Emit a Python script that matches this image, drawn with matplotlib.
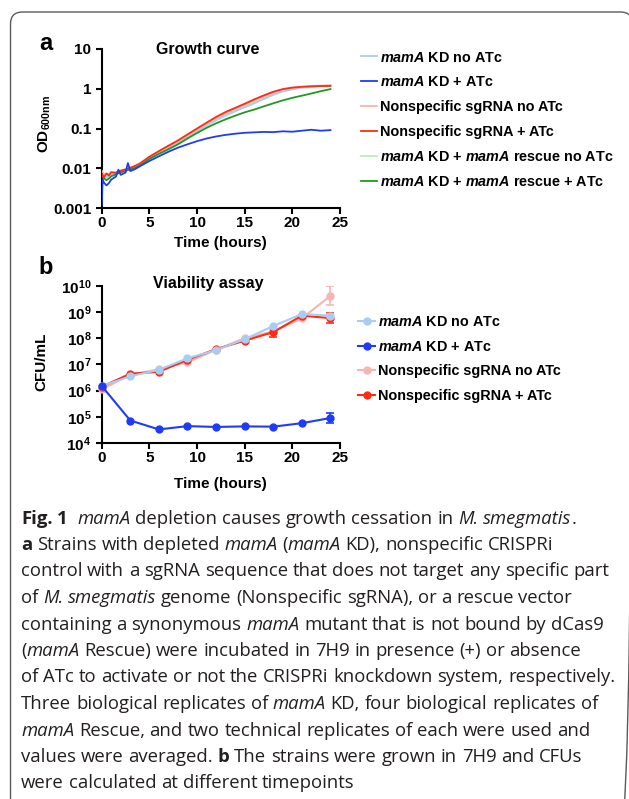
import numpy as np
import matplotlib
matplotlib.use("Agg")
import matplotlib.pyplot as plt
import matplotlib.transforms as mtransforms
from matplotlib.patches import FancyBboxPatch
from matplotlib.font_manager import FontProperties
from matplotlib.ticker import NullLocator

plt.rcParams['font.family'] = ['Liberation Sans', 'DejaVu Sans']
plt.rcParams['font.weight'] = 'bold'
plt.rcParams['mathtext.fontset'] = 'custom'
plt.rcParams['mathtext.rm'] = 'Liberation Sans:bold'
plt.rcParams['mathtext.bf'] = 'Liberation Sans:bold'
plt.rcParams['mathtext.it'] = 'Liberation Sans:italic:bold'
plt.rcParams['axes.linewidth'] = 1.5

# ---- panel a: growth curve (OD600) ----
t_growth = [0, 0.1, 0.25, 0.5, 0.75, 1, 1.5, 1.75, 2, 2.5, 2.75, 3, 3.5, 4,
            5, 6, 7, 8, 9, 10, 11, 12, 13, 14, 15, 16, 17, 18, 19, 20, 21, 22, 23, 24]
od_kd_no = [0.0070, 0.0068, 0.0062, 0.0060, 0.0064, 0.0070, 0.0074, 0.0078, 0.0082, 0.0088, 0.0092, 0.0096, 0.0105, 0.0118,
            0.018, 0.024, 0.032, 0.044, 0.061, 0.086, 0.118, 0.160, 0.21, 0.27, 0.34, 0.43, 0.55, 0.70, 0.85, 0.97, 1.06, 1.12, 1.17, 1.20]
od_kd_atc = [0.0012, 0.0052, 0.0043, 0.0037, 0.0042, 0.0052, 0.0062, 0.0092, 0.0068, 0.0078, 0.0135, 0.0085, 0.0095, 0.0112,
             0.0152, 0.020, 0.026, 0.033, 0.040, 0.048, 0.056, 0.063, 0.069, 0.074, 0.078, 0.080, 0.082, 0.081, 0.085, 0.083, 0.088, 0.093, 0.088, 0.091]
od_ns_no = [0.0088, 0.0080, 0.0072, 0.0068, 0.0072, 0.0076, 0.0080, 0.0083, 0.0086, 0.0092, 0.0096, 0.0100, 0.0110, 0.0125,
            0.0185, 0.025, 0.034, 0.046, 0.066, 0.094, 0.132, 0.18, 0.24, 0.31, 0.39, 0.50, 0.63, 0.79, 0.94, 1.05, 1.12, 1.17, 1.20, 1.22]
od_ns_atc = [0.0062, 0.0068, 0.0060, 0.0074, 0.0066, 0.0080, 0.0076, 0.0084, 0.0087, 0.0094, 0.0098, 0.0103, 0.0115, 0.0132,
             0.0195, 0.027, 0.037, 0.050, 0.071, 0.100, 0.140, 0.195, 0.26, 0.33, 0.42, 0.54, 0.68, 0.84, 0.98, 1.07, 1.12, 1.15, 1.17, 1.18]
od_res_no = [0.0075, 0.0070, 0.0064, 0.0058, 0.0062, 0.0068, 0.0074, 0.0078, 0.0082, 0.0088, 0.0092, 0.0097, 0.0107, 0.0120,
             0.018, 0.024, 0.033, 0.045, 0.063, 0.089, 0.125, 0.17, 0.225, 0.29, 0.37, 0.47, 0.59, 0.74, 0.89, 1.00, 1.08, 1.14, 1.18, 1.20]
od_res_atc = [0.0068, 0.0062, 0.0056, 0.0050, 0.0055, 0.0063, 0.0070, 0.0075, 0.0079, 0.0086, 0.0090, 0.0094, 0.0103, 0.0116,
              0.0172, 0.023, 0.030, 0.040, 0.056, 0.077, 0.104, 0.135, 0.17, 0.21, 0.255, 0.30, 0.36, 0.43, 0.51, 0.59, 0.67, 0.76, 0.87, 0.98]

# ---- panel b: viability (CFU/mL) ----
t_cfu = [0, 3, 6, 9, 12, 15, 18, 21, 24]
cfu_kd_no = [1.5e6, 3.5e6, 6.2e6, 1.7e7, 3.5e7, 9.1e7, 2.9e8, 8.3e8, 7.2e8]
cfu_kd_atc = [1.5e6, 7.2e4, 3.3e4, 4.4e4, 4.1e4, 4.3e4, 4.2e4, 5.7e4, 9.0e4]
cfu_ns_no = [1.1e6, 4.0e6, 6.5e6, 1.2e7, 3.6e7, 1.0e8, 1.8e8, 5.7e8, 4.1e9]
cfu_ns_atc = [1.4e6, 4.4e6, 5.2e6, 1.5e7, 3.8e7, 8.0e7, 1.7e8, 7.2e8, 5.8e8]
err_lo_kd_no = [0, 0, 0, 0, 0, 0, 0, 0, 1.0e8]
err_hi_kd_no = [0, 0, 0, 0, 0, 0, 0, 0, 1.2e8]
err_lo_kd_atc = [0, 0, 0, 0, 0, 0, 0, 0, 3.1e4]
err_hi_kd_atc = [0, 0, 0, 0, 0, 0, 0, 0, 4.9e4]
err_lo_ns_no = [2.5e5, 0, 0, 0, 0, 0, 4.0e7, 0, 2.3e9]
err_hi_ns_no = [3.0e5, 0, 0, 0, 0, 0, 5.0e7, 0, 5.7e9]
err_lo_ns_atc = [0, 0, 0, 0, 0, 0, 6.0e7, 0, 2.1e8]
err_hi_ns_atc = [0, 0, 0, 0, 0, 0, 7.0e7, 0, 3.1e8]

c_lblue = '#a8cdf4'
c_blue = '#1e3cf8'
c_pink = '#f8b4b0'
c_red = '#ff2b14'
c_lgreen = '#b8efb4'
c_green = '#1f9a1f'

W, H = 629, 799
fig = plt.figure(figsize=(W / 100, H / 100), dpi=100)
# pixel coords measured from the top-left corner
px = mtransforms.Affine2D().scale(1 / W, -1 / H).translate(0, 1) + fig.transFigure

border = FancyBboxPatch((10.5, 12), 622, 820, boxstyle="round,pad=0,rounding_size=12",
                        transform=px, facecolor='none', edgecolor='#5a5a5a', lw=1.0)
fig.add_artist(border)


def style_axes(ax):
    for s in ['top', 'right']:
        ax.spines[s].set_visible(False)
    ax.tick_params(length=4.5, width=1.5, labelsize=11)
    ax.tick_params(axis='x', pad=1.5)
    ax.tick_params(axis='y', pad=3)
    ax.set_yscale('log')
    ax.yaxis.set_minor_locator(NullLocator())
    ax.set_xlim(0, 25)
    ax.set_xticks([0, 5, 10, 15, 20, 25])


# panel a
ax_a = fig.add_axes([101.7 / W, 1 - 208 / H, 238.3 / W, 159 / H])
style_axes(ax_a)
ax_a.set_ylim(0.001, 10)
ax_a.set_yticks([0.001, 0.01, 0.1, 1, 10], labels=["0.001", "0.01", "0.1", "1", "10"])
ax_a.yaxis.set_minor_locator(NullLocator())

series_a = [
    (od_kd_no, c_lblue, r"$\mathit{mamA}$ KD no ATc", 2),
    (od_kd_atc, c_blue, r"$\mathit{mamA}$ KD + ATc", 7),
    (od_ns_no, c_pink, "Nonspecific sgRNA no ATc", 3),
    (od_ns_atc, c_red, "Nonspecific sgRNA + ATc", 5),
    (od_res_no, c_lgreen, r"$\mathit{mamA}$ KD + $\mathit{mamA}$ rescue no ATc", 1),
    (od_res_atc, c_green, r"$\mathit{mamA}$ KD + $\mathit{mamA}$ rescue + ATc", 4),
]
handles_a = []
for vals, col, lab, z in series_a:
    ln, = ax_a.plot(t_growth, vals, color=col, lw=1.3, label=lab, zorder=z)
    handles_a.append(ln)

ax_a.set_xlabel("Time (hours)", fontsize=11, fontweight='bold')
ax_a.xaxis.set_label_coords(0.5, -0.176)
ax_a.set_ylabel(r"OD$_{\mathrm{600nm}}$", fontsize=11, fontweight='bold')
ax_a.yaxis.set_label_coords(-0.205, 0.528)
ax_a.text(0.446, 1.0, "Growth curve", transform=ax_a.transAxes, ha='center', va='center',
          fontsize=11.5, fontweight='bold')
ax_a.legend(handles=handles_a, loc='upper left', bbox_to_anchor=(360.7, 50.5), bbox_transform=px,
            frameon=False, borderpad=0, borderaxespad=0, handlelength=1.13, handletextpad=0.22,
            labelspacing=0.76, prop={'size': 10.4, 'weight': 'bold'})

# panel b
ax_b = fig.add_axes([101.7 / W, 1 - 443 / H, 238.3 / W, 157.3 / H])
style_axes(ax_b)
ax_b.set_ylim(1e4, 1e10)
ax_b.set_yticks([10.0 ** k for k in range(4, 11)],
                labels=[r"$\mathbf{10^{%d}}$" % k for k in range(4, 11)])
ax_b.yaxis.set_minor_locator(NullLocator())

series_b = [
    (cfu_ns_no, err_lo_ns_no, err_hi_ns_no, c_pink, "Nonspecific sgRNA no ATc", 3),
    (cfu_ns_atc, err_lo_ns_atc, err_hi_ns_atc, c_red, "Nonspecific sgRNA + ATc", 4),
    (cfu_kd_no, err_lo_kd_no, err_hi_kd_no, c_lblue, r"$\mathit{mamA}$ KD no ATc", 5),
    (cfu_kd_atc, err_lo_kd_atc, err_hi_kd_atc, c_blue, r"$\mathit{mamA}$ KD + ATc", 6),
]
lines_b = {}
for vals, lo, hi, col, lab, z in series_b:
    ln, = ax_b.plot(t_cfu, vals, '-o', color=col, lw=1.5, ms=5, label=lab, zorder=z, clip_on=False)
    lines_b[lab] = ln
    idx = [i for i in range(len(vals)) if lo[i] > 0 or hi[i] > 0]
    if idx:
        ax_b.errorbar([t_cfu[i] for i in idx], [vals[i] for i in idx],
                      yerr=[[lo[i] for i in idx], [hi[i] for i in idx]],
                      fmt='none', ecolor=col, elinewidth=1.2, capsize=3, capthick=1.2, zorder=z)

order_b = [r"$\mathit{mamA}$ KD no ATc", r"$\mathit{mamA}$ KD + ATc",
           "Nonspecific sgRNA no ATc", "Nonspecific sgRNA + ATc"]
ax_b.legend(handles=[lines_b[k] for k in order_b], loc='upper left', bbox_to_anchor=(358, 315.5),
            bbox_transform=px, frameon=False, borderpad=0, borderaxespad=0, handlelength=1.18,
            handletextpad=0.2, labelspacing=0.72, numpoints=1, prop={'size': 10.4, 'weight': 'bold'})

ax_b.set_xlabel("Time (hours)", fontsize=11, fontweight='bold')
ax_b.xaxis.set_label_coords(0.5, -0.216)
ax_b.set_ylabel("CFU/mL", fontsize=11, fontweight='bold')
ax_b.yaxis.set_label_coords(-0.222, 0.517)
ax_b.text(0.446, 1.015, "Viability assay", transform=ax_b.transAxes, ha='center', va='center',
          fontsize=11.5, fontweight='bold')

fig.text(45.5, 43, "a", transform=px, ha='center', va='center', fontsize=17, fontweight='bold')
fig.text(45.5, 268, "b", transform=px, ha='center', va='center', fontsize=17, fontweight='bold')

# ---- caption ----
cap_lines = [
    [("Fig. 1", "b"), ("  ", "r"), ("mamA", "i"), (" depletion causes growth cessation in ", "r"),
     ("M. smegmatis", "i"), (".", "r")],
    [("a", "b"), (" Strains with depleted ", "r"), ("mamA", "i"), (" (", "r"), ("mamA", "i"),
     (" KD), nonspecific CRISPRi", "r")],
    [("control with a sgRNA sequence that does not target any specific part", "r")],
    [("of ", "r"), ("M. smegmatis", "i"), (" genome (Nonspecific sgRNA), or a rescue vector", "r")],
    [("containing a synonymous ", "r"), ("mamA", "i"), (" mutant that is not bound by dCas9", "r")],
    [("(", "r"), ("mamA", "i"), (" Rescue) were incubated in 7H9 in presence (+) or absence", "r")],
    [("of ATc to activate or not the CRISPRi knockdown system, respectively.", "r")],
    [("Three biological replicates of ", "r"), ("mamA", "i"), (" KD, four biological replicates of", "r")],
    [("mamA", "i"), (" Rescue, and two technical replicates of each were used and", "r")],
    [("values were averaged. ", "r"), ("b", "b"), (" The strains were grown in 7H9 and CFUs", "r")],
    [("were calculated at different timepoints", "r")],
]
cap_family = ['Open Sans', 'DejaVu Sans']
cap_color = '#231f20'
renderer = fig.canvas.get_renderer()


def cap_props(size):
    return {
        'r': FontProperties(family=cap_family, size=size, weight='normal', style='normal'),
        'i': FontProperties(family=cap_family, size=size, weight='normal', style='italic'),
        'b': FontProperties(family=cap_family, size=size, weight='bold', style='normal'),
    }


def ink_width(s, fp):
    t = fig.text(0, 0, s, fontproperties=fp)
    w = t.get_window_extent(renderer).width
    t.remove()
    return w


def advance(s, fp):
    # advance width, measured between two sentinel bars so side bearings count
    return ink_width("|" + s + "|", fp) - ink_width("||", fp)


def lay_line(x0, y, runs, props, draw):
    space = advance(" ", props['r'])
    x = x0
    for s, st in runs:
        parts = s.split(' ')
        for k, part in enumerate(parts):
            if k > 0:
                x += space
            if part:
                if draw:
                    fig.text(x, y, part, transform=px, fontproperties=props[st],
                             color=cap_color, va='baseline', ha='left')
                x += advance(part, props[st])
    return x - x0


# fit the caption size to the widest line of the reference
w10 = lay_line(0, 0, cap_lines[2], cap_props(10), False)
cap_size = 10 * 587 / w10
props = cap_props(cap_size)
for i, runs in enumerate(cap_lines):
    lay_line(21, 523.5 + 26.5 * i, runs, props, True)

fig.savefig("out.png", dpi=100)
